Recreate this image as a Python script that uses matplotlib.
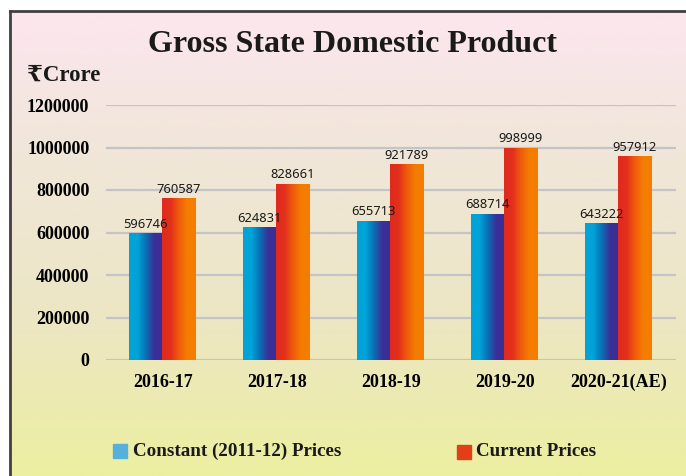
import numpy as np
import matplotlib
matplotlib.use("Agg")
import matplotlib.pyplot as plt
from matplotlib.colors import LinearSegmentedColormap
from matplotlib.patches import Rectangle

years = ["2016-17", "2017-18", "2018-19", "2019-20", "2020-21(AE)"]
constant_prices = [596746, 624831, 655713, 688714, 643222]
current_prices = [760587, 828661, 921789, 998999, 957912]
y_ticks = [0, 200000, 400000, 600000, 800000, 1000000, 1200000]

serif = ["Liberation Serif", "DejaVu Serif"]
blue_cmap = LinearSegmentedColormap.from_list("b", ["#00a3d8", "#00a3d8", "#0a6fb4", "#3b2f98", "#3a2d96"])
red_cmap = LinearSegmentedColormap.from_list("r", ["#df2a1e", "#e2301c", "#ef5c0c", "#f47d00", "#f47e00"])

fig = plt.figure(figsize=(6.86, 4.76), dpi=100)

# background gradient pink -> yellow
bg = fig.add_axes([0, 0, 1, 1], zorder=-10)
grad = np.linspace(0, 1, 256).reshape(-1, 1)
bg_cmap = LinearSegmentedColormap.from_list("bg", ["#fde6f0", "#f0e6d8", "#ece6c4", "#ecefa0"])
bg.imshow(grad, aspect="auto", cmap=bg_cmap, extent=[0, 1, 0, 1], origin="upper")
bg.set_xlim(0, 1)
bg.set_ylim(0, 1)
bg.axis("off")
# white strip outside the frame
bg.add_patch(Rectangle((0, 0), 10 / 686, 1, color="white", zorder=2))
bg.add_patch(Rectangle((0, 1 - 11 / 476), 1, 11 / 476, color="white", zorder=2))
bg.plot([10 / 686, 10 / 686], [0, 1 - 11 / 476], color="#404040", lw=2, zorder=3)
bg.plot([10 / 686, 1], [1 - 11 / 476, 1 - 11 / 476], color="#404040", lw=2, zorder=3)

ax = fig.add_axes([106 / 686, 1 - 360 / 476, 570 / 686, 255 / 476])
ax.patch.set_alpha(0)

x = np.arange(len(years))
w = 0.29
b1 = ax.bar(x - w / 2 - 0.01, constant_prices, w, color="none", zorder=3)
b2 = ax.bar(x + w / 2 - 0.01, current_prices, w, color="none", zorder=3)

hgrad = np.linspace(0, 1, 100).reshape(1, -1)
for bars, cmap in ((b1, blue_cmap), (b2, red_cmap)):
    for bar in bars:
        x0, y0 = bar.get_x(), bar.get_y()
        im = ax.imshow(hgrad, aspect="auto", cmap=cmap, zorder=3,
                       extent=[x0, x0 + bar.get_width(), y0, y0 + bar.get_height()])
        im.set_clip_path(bar)
        ax.text(x0 + bar.get_width() / 2, bar.get_height() + 12000, str(int(bar.get_height())),
                ha="center", va="bottom", fontsize=9.3, family="Noto Sans", color="#1a1a1a", zorder=5)

ax.set_xlim(-0.5, len(years) - 0.5)
ax.set_ylim(0, 1200000)
ax.set_yticks(y_ticks)
ax.set_yticklabels([str(t) for t in y_ticks], family=serif, fontweight="bold", fontsize=13)
ax.set_xticks(x)
ax.set_xticklabels(years, family=serif, fontweight="bold", fontsize=13)
ax.tick_params(length=0, pad=12)
ax.tick_params(axis="x", pad=10)
ax.yaxis.grid(True, color="#c4c4c8", lw=1.6)
ax.set_axisbelow(True)
for s in ax.spines.values():
    s.set_visible(False)

fig.text(352 / 686, 1 - 44 / 476, "Gross State Domestic Product", ha="center", va="center",
         family=serif, fontweight="bold", fontsize=23, color="#1a1a1a")
fig.text(27 / 686, 1 - 75 / 476, "\u20b9Crore", ha="left", va="center",
         family=serif, fontweight="bold", fontsize=16.5, color="#1a1a1a")

# legend
fig.patches.append(Rectangle((113 / 686, 1 - 458 / 476), 14 / 686, 14 / 476, color="#56b0dc",
                             transform=fig.transFigure, figure=fig))
fig.text(133 / 686, 1 - 451 / 476, "Constant (2011-12) Prices", ha="left", va="center",
         family=serif, fontweight="bold", fontsize=13.7, color="#1a1a1a")
fig.patches.append(Rectangle((457 / 686, 1 - 459 / 476), 14 / 686, 14 / 476, color="#e23e18",
                             transform=fig.transFigure, figure=fig))
fig.text(476 / 686, 1 - 452 / 476, "Current Prices", ha="left", va="center",
         family=serif, fontweight="bold", fontsize=13.7, color="#1a1a1a")

fig.savefig("out.png", dpi=100)
